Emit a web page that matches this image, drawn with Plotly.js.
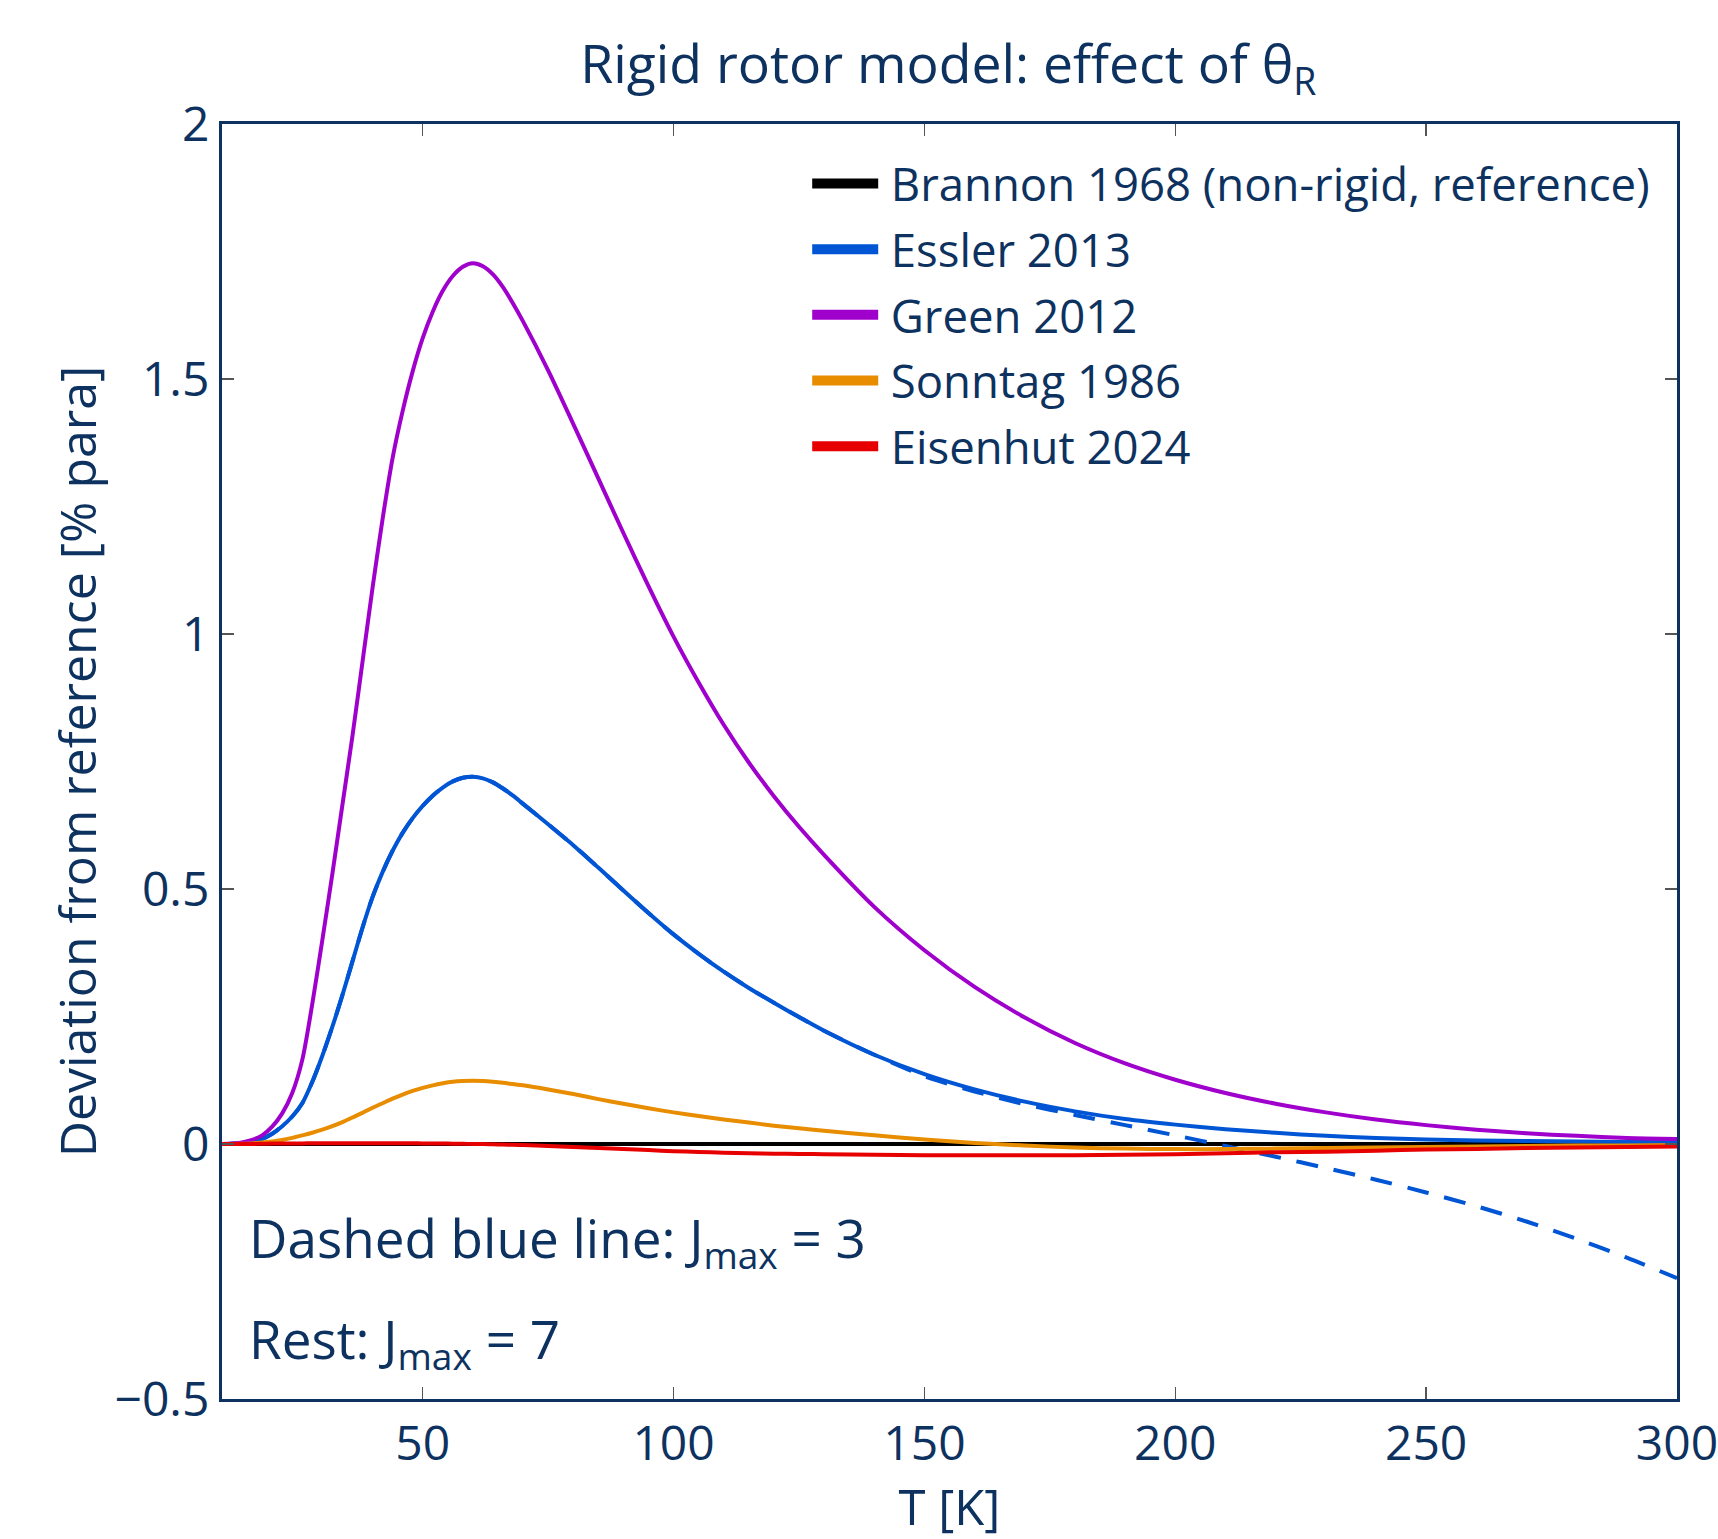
<!DOCTYPE html>
<html>
<head>
<meta charset="utf-8">
<script src="https://cdn.plot.ly/plotly-3.0.1.min.js"></script>
<style>html,body{margin:0;padding:0;background:#fff;}#chart{width:1718px;height:1539px;}</style>
</head>
<body>
<div id="chart"></div>
<script>
// Temperature grid [K]
const T = [10,12,14,16,18,20,22,24,26,28,30,32,34,36,38,40,42,44,46,48,50,52,54,56,58,60,62,64,66,68,70,75,80,85,90,95,100,105,110,115,120,125,130,140,150,160,170,180,190,200,210,220,230,240,250,260,270,280,290,300];

// Deviation from reference [% para]
const brannon = T.map(() => 0);
const essler = [0,0.0005,0.002,0.005,0.010,0.020,0.035,0.054,0.080,0.122,0.173,0.230,0.292,0.358,0.424,0.484,0.533,0.575,0.610,0.639,0.663,0.683,0.699,0.711,0.718,0.720,0.717,0.709,0.697,0.683,0.667,0.627,0.586,0.542,0.497,0.453,0.411,0.373,0.338,0.306,0.277,0.249,0.222,0.175,0.137,0.107,0.083,0.064,0.049,0.038,0.029,0.022,0.016,0.012,0.009,0.007,0.006,0.005,0.004,0.004];
const esslerJ3 = [0,0.0005,0.002,0.005,0.010,0.020,0.035,0.054,0.080,0.122,0.173,0.230,0.292,0.358,0.424,0.484,0.533,0.575,0.610,0.639,0.663,0.683,0.699,0.711,0.718,0.720,0.717,0.709,0.697,0.683,0.667,0.627,0.586,0.542,0.497,0.453,0.411,0.373,0.338,0.306,0.277,0.249,0.222,0.175,0.133,0.103,0.078,0.057,0.037,0.017,-0.004,-0.025,-0.047,-0.070,-0.095,-0.122,-0.152,-0.186,-0.223,-0.263];
const green = [0,0.001,0.003,0.008,0.017,0.034,0.060,0.100,0.165,0.275,0.400,0.530,0.665,0.800,0.945,1.090,1.225,1.345,1.437,1.515,1.580,1.632,1.673,1.702,1.720,1.727,1.721,1.705,1.680,1.648,1.613,1.517,1.412,1.305,1.198,1.094,0.995,0.905,0.822,0.748,0.682,0.622,0.567,0.465,0.380,0.308,0.248,0.198,0.158,0.126,0.100,0.079,0.062,0.048,0.037,0.028,0.021,0.016,0.012,0.010];
const sonntag = [0,0,0.0005,0.001,0.003,0.005,0.008,0.012,0.017,0.022,0.028,0.035,0.043,0.052,0.061,0.071,0.080,0.089,0.097,0.104,0.110,0.115,0.119,0.122,0.1235,0.124,0.1235,0.122,0.120,0.1175,0.115,0.107,0.098,0.088,0.079,0.070,0.062,0.055,0.048,0.042,0.036,0.031,0.026,0.017,0.009,0.002,-0.003,-0.007,-0.009,-0.010,-0.010,-0.009,-0.008,-0.007,-0.006,-0.005,-0.004,-0.003,-0.003,-0.002];
const eisenhut = [0,0,0,0,0.0005,0.001,0.001,0.001,0.001,0.0015,0.0015,0.0015,0.0015,0.0015,0.0015,0.0015,0.0015,0.0015,0.0015,0.0015,0.001,0.001,0.001,0.0005,0.0005,0,0,-0.0005,-0.001,-0.0015,-0.002,-0.004,-0.006,-0.008,-0.010,-0.012,-0.014,-0.0155,-0.017,-0.018,-0.019,-0.0195,-0.020,-0.021,-0.022,-0.022,-0.022,-0.022,-0.021,-0.020,-0.018,-0.016,-0.015,-0.013,-0.011,-0.010,-0.008,-0.007,-0.006,-0.005];

const seriesNames = ['Brannon 1968 (non-rigid, reference)','Essler 2013','Green 2012','Sonntag 1986','Eisenhut 2024'];
const seriesColors = ['#000000','#0055d4','#a000cc','#e88c00','#e60000'];
const xTicks = [50,100,150,200,250,300];
const yTicks = [-0.5,0,0.5,1,1.5,2];

const NAVY = '#0d3260';
const FONT = '"Open Sans", "Noto Sans", sans-serif';

const traces = [];
traces.push({x:T, y:brannon, mode:'lines', line:{color:seriesColors[0], width:4, shape:'spline', smoothing:0.8}, showlegend:false});
traces.push({x:T, y:essler, mode:'lines', line:{color:seriesColors[1], width:4, shape:'spline', smoothing:0.8}, showlegend:false});
traces.push({x:T, y:esslerJ3, mode:'lines', line:{color:seriesColors[1], width:4, dash:'22px,16px', shape:'spline', smoothing:0.8}, showlegend:false});
traces.push({x:T, y:green, mode:'lines', line:{color:seriesColors[2], width:4, shape:'spline', smoothing:0.8}, showlegend:false});
traces.push({x:T, y:sonntag, mode:'lines', line:{color:seriesColors[3], width:4, shape:'spline', smoothing:0.8}, showlegend:false});
traces.push({x:T, y:eisenhut, mode:'lines', line:{color:seriesColors[4], width:4, shape:'spline', smoothing:0.8}, showlegend:false});
// legend entries (legend only, no data)
for (let i = 0; i < seriesNames.length; i++) {
  traces.push({x:[null], y:[null], mode:'lines', name:'\u2009' + seriesNames[i], legendgroup:'g' + i, line:{color:seriesColors[i], width:10}, showlegend:true});
}

const axisCommon = {
  showline:true, linecolor:NAVY, linewidth:3, mirror:'ticks',
  ticks:'inside', ticklen:12, tickwidth:1.5, tickcolor:'#555555',
  showgrid:false, zeroline:false, ticklabeloverflow:'allow',
  tickfont:{family:FONT, size:48, color:NAVY}
};

const layout = {
  width:1718, height:1539,
  margin:{l:222, r:41, t:124, b:140},
  paper_bgcolor:'#ffffff', plot_bgcolor:'#ffffff',
  font:{family:FONT, color:NAVY},
  title:{text:'Rigid rotor model: effect of θ<sub>R</sub>', font:{family:FONT, size:53.5, color:NAVY}, x:0.552, xanchor:'center', y:0.958, yanchor:'middle'},
  xaxis:Object.assign({}, axisCommon, {range:[10,300], tickvals:xTicks, title:{text:'T [K]', font:{family:FONT, size:49, color:NAVY}, standoff:14}}),
  yaxis:Object.assign({}, axisCommon, {range:[-0.5,2], tickvals:yTicks, ticktext:yTicks.map(v => v < 0 ? '\u2212' + Math.abs(v) : String(v)), title:{text:'Deviation from reference [% para]', font:{family:FONT, size:50, color:NAVY}, standoff:2}}),
  legend:{x:0.4022, xanchor:'left', y:0.9816, yanchor:'top', bgcolor:'rgba(0,0,0,0)', borderwidth:0, font:{family:FONT, size:45.5, color:NAVY}, itemwidth:66, tracegroupgap:3.5, traceorder:'grouped'},
  annotations:[
    {text:'Dashed blue line: J<sub>max</sub> = 3', xref:'paper', yref:'paper', x:0.0172, y:0.1243, xanchor:'left', yanchor:'middle', showarrow:false, font:{family:FONT, size:53, color:NAVY}},
    {text:'Rest: J<sub>max</sub> = 7', xref:'paper', yref:'paper', x:0.0172, y:0.0453, xanchor:'left', yanchor:'middle', showarrow:false, font:{family:FONT, size:53, color:NAVY}}
  ],
  showlegend:true
};

Plotly.newPlot('chart', traces, layout, {displayModeBar:false, staticPlot:true});
</script>
</body>
</html>
